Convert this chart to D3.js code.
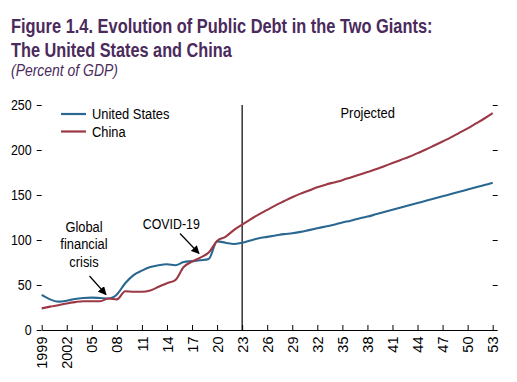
<!DOCTYPE html>
<html><head><meta charset="utf-8">
<script src="https://cdn.jsdelivr.net/npm/d3@7"></script>
<style>
body{margin:0;background:#fff;}
svg text{font-family:"Liberation Sans",Arial,Helvetica,sans-serif;}
</style></head>
<body><svg id="c" width="517" height="382"></svg>
<script>
const years = d3.range(1999, 2054);
const usDebt = [39,34,31.5,32.5,34.5,35.5,36,35.5,35,39.5,52,61,66,70,72,73,72,75.5,76.5,77.5,79,98.5,97,95.5,97,
  99.5,102,103.5,105,106.5,107.5,109,111,113,115,117,119.5,121.5,124,126,128.5,131,133.5,136,138.5,141,143.5,146,148.5,151,153.5,156,158.5,161,163.7];
const chinaDebt = [24,26,27.5,29.5,31,32,32,32,35,34,43,42.5,42.5,44,48,52,55.5,70,76,80.5,86,99,103.5,111,117,
  123,128.5,133.5,138.5,143,147.5,151.5,155,158.5,161.5,164,166.5,169.5,172.5,175.5,178.5,182,185.5,189,192.5,196.5,200.5,205,209.5,214,219,224,229.5,235,241];
const xTickYears = [1999,2002,2005,2008,2011,2014,2017,2020,2023,2026,2029,2032,2035,2038,2041,2044,2047,2050,2053];
const xTickLabels = ["1999","2002","05","08","11","14","17","20","23","26","29","32","35","38","41","44","47","50","53"];
const yTicks = [0,50,100,150,200,250];
const seriesNames = ["United States","China"];
const seriesColors = ["#2a6791","#9b3844"];

const svg = d3.select("#c");
const x = d3.scaleLinear().domain([1999,2053]).range([41.7,492.7]);
const y = d3.scaleLinear().domain([0,250]).range([330,105]);
const purple = "#4b2a5c";
const SX = 0.86;

function addText(px, py, str, size, o={}){
  const t = svg.append("text").attr("font-size",size).attr("fill",o.fill||"#000")
    .attr("text-anchor",o.anchor||"start").text(str);
  if(o.weight) t.attr("font-weight",o.weight);
  if(o.style) t.attr("font-style",o.style);
  let s = o.sx||SX;
  if(o.target) s = o.target / t.node().getComputedTextLength();
  t.attr("transform",`translate(${px},${py}) scale(${s},1)`);
  return t;
}

// titles
addText(11,33,"Figure 1.4. Evolution of Public Debt in the Two Giants:",21,{fill:purple,weight:"bold",target:422});
addText(11,57,"The United States and China",21,{fill:purple,weight:"bold",target:221});
addText(11,76,"(Percent of GDP)",16,{fill:purple,style:"italic",target:107});

// left axis
const yl = svg.append("g").attr("transform","translate(41.7,0)")
  .call(d3.axisLeft(y).tickValues(yTicks).tickSize(5).tickPadding(4));
yl.select(".domain").remove();
yl.selectAll("text").attr("font-size",14.5).attr("fill","#000").attr("x",-10/SX).attr("transform",`scale(${SX},1)`);
yl.selectAll("line").attr("stroke","#000");
// right axis ticks
const yr = svg.append("g").attr("transform","translate(492.7,0)")
  .call(d3.axisRight(y).tickValues(yTicks).tickSize(5).tickFormat(""));
yr.select(".domain").remove();
yr.selectAll("line").attr("stroke","#000");

// x axis
const xa = svg.append("g").attr("transform","translate(0,330)")
  .call(d3.axisTop(x).tickValues(xTickYears).tickSize(5).tickSizeOuter(0).tickFormat((d,i)=>xTickLabels[i]));
xa.select(".domain").attr("stroke","#000");
xa.selectAll("line").attr("stroke","#000");
xa.selectAll("text").attr("transform","rotate(-90)").attr("x",-6.5).attr("y",0).attr("dy","0.35em")
  .attr("text-anchor","end").attr("font-size",14.5).attr("fill","#000");

// vertical line at 2023
svg.append("line").attr("x1",x(2023)).attr("x2",x(2023)).attr("y1",y(250)).attr("y2",y(0))
  .attr("stroke","#000").attr("stroke-width",1.2);

// lines
const line = d3.line().x((d,i)=>x(years[i])).y(d=>y(d)).curve(d3.curveMonotoneX);
[usDebt, chinaDebt].forEach((s,k)=>{
  svg.append("path").datum(s).attr("d",line).attr("fill","none")
    .attr("stroke",seriesColors[k]).attr("stroke-width",2.1).attr("stroke-linejoin","round");
});

// legend
seriesNames.forEach((n,i)=>{
  const ly = 114 + i*17.5;
  svg.append("line").attr("x1",61).attr("x2",86).attr("y1",ly).attr("y2",ly)
    .attr("stroke",seriesColors[i]).attr("stroke-width",2.2);
  addText(92, ly+5, n, 15);
});

// annotations
svg.append("defs").append("marker").attr("id","ah").attr("viewBox","0 0 10 10").attr("refX",9).attr("refY",5)
  .attr("markerWidth",7).attr("markerHeight",7).attr("orient","auto")
  .append("path").attr("d","M0,0L10,5L0,10z").attr("fill","#000");
["Global","financial","crisis"].forEach((t,i)=>addText(84, 231.5+i*17.5, t, 15, {anchor:"middle"}));
svg.append("line").attr("x1",89.5).attr("y1",276).attr("x2",106).attr("y2",294.5)
  .attr("stroke","#000").attr("stroke-width",1.2).attr("marker-end","url(#ah)");
addText(171.3, 229.3, "COVID-19", 15, {anchor:"middle", target:57});
svg.append("line").attr("x1",180).attr("y1",233.5).attr("x2",199).attr("y2",253.5)
  .attr("stroke","#000").attr("stroke-width",1.2).attr("marker-end","url(#ah)");
addText(367.7, 118, "Projected", 15, {anchor:"middle"});
</script></body></html>
